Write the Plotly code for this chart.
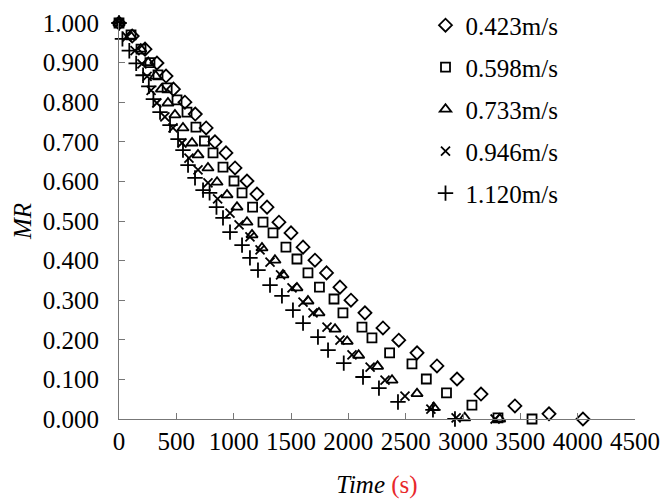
import plotly.graph_objects as go

# Data
names = ["0.423m/s", "0.598m/s", "0.733m/s", "0.946m/s", "1.120m/s"]

t_d = [0, 115, 227, 331, 410, 475, 575, 665, 760, 837, 933, 1012, 1116, 1203, 1291, 1395, 1500, 1605,
       1709, 1810, 1927, 2023, 2145, 2302, 2440, 2599, 2773, 2948, 3157, 3453, 3750, 4046]
mr_d = [1.000, 0.967, 0.934, 0.899, 0.866, 0.833, 0.800, 0.770, 0.735, 0.700, 0.672, 0.634, 0.601, 0.568,
        0.535, 0.497, 0.470, 0.434, 0.401, 0.369, 0.333, 0.300, 0.268, 0.230, 0.199, 0.167, 0.134, 0.101,
        0.063, 0.033, 0.013, 0.000]

t_s = [0, 105, 192, 270, 340, 420, 506, 593, 671, 745, 820, 907, 1003, 1073, 1165, 1256, 1343, 1456, 1552,
       1648, 1748, 1875, 1953, 2119, 2206, 2360, 2555, 2680, 2856, 3078, 3305, 3602]
mr_s = [1.000, 0.970, 0.934, 0.900, 0.869, 0.836, 0.806, 0.775, 0.737, 0.702, 0.672, 0.636, 0.601, 0.571,
        0.535, 0.497, 0.470, 0.434, 0.404, 0.369, 0.333, 0.303, 0.268, 0.232, 0.205, 0.167, 0.139, 0.101,
        0.066, 0.035, 0.003, 0.000]

t_t = [0, 100, 190, 255, 320, 370, 427, 488, 558, 637, 689, 776, 855, 942, 1029, 1116, 1160, 1247, 1360,
       1430, 1552, 1648, 1744, 1884, 1990, 2090, 2255, 2381, 2599, 2745, 3015, 3320]
mr_t = [1.000, 0.967, 0.934, 0.900, 0.866, 0.833, 0.798, 0.768, 0.735, 0.697, 0.667, 0.634, 0.598, 0.566,
        0.535, 0.497, 0.465, 0.432, 0.401, 0.364, 0.331, 0.298, 0.268, 0.227, 0.196, 0.161, 0.133, 0.098,
        0.064, 0.029, 0.003, 0.000]

t_x = [0, 70, 140, 200, 245, 280, 330, 400, 471, 549, 610, 689, 776, 860, 968, 1047, 1142, 1230, 1317,
       1409, 1509, 1605, 1692, 1814, 1927, 2032, 2190, 2320, 2494, 2720, 2940, 3280]
mr_x = [1.000, 0.965, 0.930, 0.897, 0.865, 0.830, 0.798, 0.763, 0.735, 0.697, 0.659, 0.629, 0.596, 0.556,
        0.520, 0.490, 0.460, 0.427, 0.396, 0.364, 0.331, 0.295, 0.268, 0.232, 0.199, 0.162, 0.131, 0.098,
        0.058, 0.025, 0.003, 0.000]

t_p = [0, 30, 90, 150, 210, 260, 300, 358, 445, 515, 558, 602, 663, 733, 790, 850, 907, 968, 1073, 1142,
       1212, 1317, 1421, 1517, 1605, 1735, 1823, 1960, 2128, 2267, 2433, 2738, 2930]
mr_p = [1.000, 0.960, 0.930, 0.898, 0.868, 0.840, 0.808, 0.775, 0.742, 0.707, 0.679, 0.641, 0.609, 0.578,
        0.571, 0.535, 0.508, 0.472, 0.439, 0.407, 0.376, 0.338, 0.311, 0.275, 0.242, 0.207, 0.174, 0.141,
        0.106, 0.078, 0.043, 0.023, 0.000]

x_ticks = [0, 500, 1000, 1500, 2000, 2500, 3000, 3500, 4000, 4500]
y_ticks = [0.0, 0.1, 0.2, 0.3, 0.4, 0.5, 0.6, 0.7, 0.8, 0.9, 1.0]

series = [
    (t_d, mr_d, "diamond-open", 10),
    (t_s, mr_s, "square-open", 9),
    (t_t, mr_t, "triangle-up-open", 10),
    (t_x, mr_x, "x-thin-open", 9),
    (t_p, mr_p, "cross-thin-open", 11),
]

FONT = "Liberation Serif, Times New Roman, serif"
FS = 25

fig = go.Figure()
for i, ((tx, my, sym, sz), nm) in enumerate(zip(series, names)):
    fig.add_trace(go.Scatter(
        x=tx, y=my, mode="markers", name=nm, legendgroup=f"g{i}",
        marker=dict(symbol=sym, size=sz, color="black",
                    line=dict(color="black", width=1.8)),
        cliponaxis=False,
    ))

fig.update_layout(
    width=662, height=499,
    margin=dict(l=119, r=27, t=23, b=80, autoexpand=False),
    paper_bgcolor="white", plot_bgcolor="white",
    font=dict(family=FONT, size=FS, color="black"),
    showlegend=True,
    legend=dict(x=0.594, y=1.052, xanchor="left", yanchor="top",
                bgcolor="rgba(0,0,0,0)", borderwidth=0,
                font=dict(family=FONT, size=FS, color="black"),
                tracegroupgap=6.5, itemwidth=30),
    xaxis=dict(
        range=[0, 4500], tickvals=x_ticks, ticktext=[str(v) for v in x_ticks],
        ticks="inside", ticklen=6, tickcolor="#777", showline=True, linecolor="#777",
        linewidth=1, showgrid=False, zeroline=False, ticklabelstandoff=0,
        title=dict(text="<i>Time</i> <span style='color:#e8282b'>(s)</span>",
                   font=dict(family=FONT, size=FS), standoff=22),
    ),
    yaxis=dict(
        range=[0, 1.0], tickvals=y_ticks, ticktext=[f"{v:.3f}" for v in y_ticks],
        ticks="inside", ticklen=6, tickcolor="#777", showline=True, linecolor="#777",
        linewidth=1, showgrid=False, zeroline=False, ticklabelstandoff=14,
        title=dict(text="<i>MR</i>", font=dict(family=FONT, size=FS), standoff=4),
    ),
)

fig.write_html("out.html")
